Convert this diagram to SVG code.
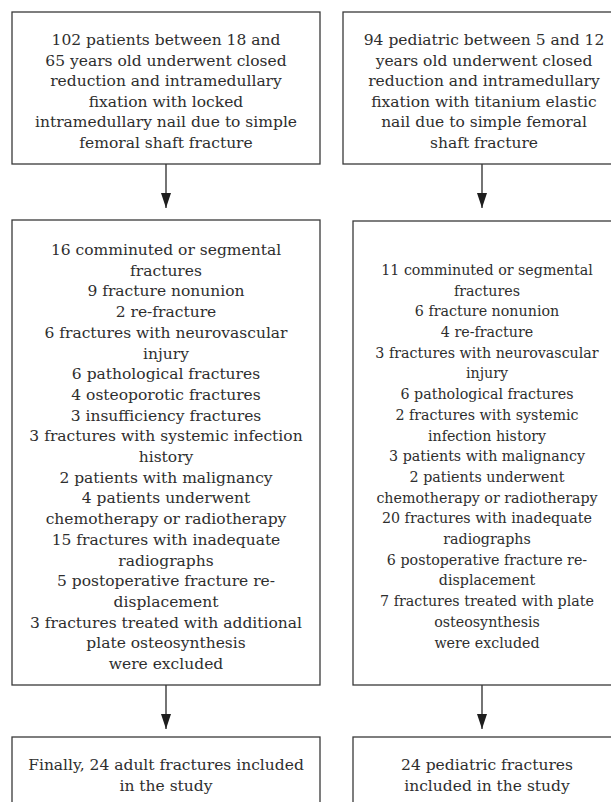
<svg xmlns="http://www.w3.org/2000/svg" width="611" height="802" viewBox="0 0 611 802">
<defs>
<style>
.box{fill:#ffffff;stroke:#3a3a3a;stroke-width:1.3}
.t{font-family:"DejaVu Serif","Liberation Serif",serif;font-size:15.5px;fill:#2e2e2e;text-anchor:middle}
.edge{stroke:#2a2a2a;stroke-width:1.3;fill:none;marker-end:url(#arr)}
</style>
<marker id="arr" viewBox="0 0 15 10" refX="15" refY="5" markerWidth="15" markerHeight="10" markerUnits="userSpaceOnUse" orient="auto">
<path d="M0,0 L15,5 L0,10 z" fill="#1e1e1e"/>
</marker>
</defs>
<rect width="611" height="802" fill="#ffffff"/>
<g id="connectors">
<line class="edge" x1="166" y1="164" x2="166" y2="208"/>
<line class="edge" x1="482" y1="164" x2="482" y2="208"/>
<line class="edge" x1="166" y1="685" x2="166" y2="729"/>
<line class="edge" x1="482" y1="685" x2="482" y2="729"/>
</g>
<g id="adult-start">
<rect class="box" x="12" y="12" width="308" height="152"/>
<text class="t" x="166" y="45">102 patients between 18 and</text>
<text class="t" x="166" y="65.6">65 years old underwent closed</text>
<text class="t" x="166" y="86.2">reduction and intramedullary</text>
<text class="t" x="166" y="106.8">fixation with locked</text>
<text class="t" x="166" y="127.4">intramedullary nail due to simple</text>
<text class="t" x="166" y="148">femoral shaft fracture</text>
</g>
<g id="pediatric-start">
<rect class="box" x="343" y="12" width="282" height="152"/>
<text class="t" x="484" y="45">94 pediatric between 5 and 12</text>
<text class="t" x="484" y="65.6">years old underwent closed</text>
<text class="t" x="484" y="86.2">reduction and intramedullary</text>
<text class="t" x="484" y="106.8">fixation with titanium elastic</text>
<text class="t" x="484" y="127.4">nail due to simple femoral</text>
<text class="t" x="484" y="148">shaft fracture</text>
</g>
<g id="adult-excluded">
<rect class="box" x="12" y="220" width="308" height="465"/>
<text class="t" x="166" y="255">16 comminuted or segmental</text>
<text class="t" x="166" y="275.7">fractures</text>
<text class="t" x="166" y="296.4">9 fracture nonunion</text>
<text class="t" x="166" y="317.1">2 re-fracture</text>
<text class="t" x="166" y="337.8">6 fractures with neurovascular</text>
<text class="t" x="166" y="358.5">injury</text>
<text class="t" x="166" y="379.2">6 pathological fractures</text>
<text class="t" x="166" y="399.9">4 osteoporotic fractures</text>
<text class="t" x="166" y="420.6">3 insufficiency fractures</text>
<text class="t" x="166" y="441.3">3 fractures with systemic infection</text>
<text class="t" x="166" y="462">history</text>
<text class="t" x="166" y="482.7">2 patients with malignancy</text>
<text class="t" x="166" y="503.4">4 patients underwent</text>
<text class="t" x="166" y="524.1">chemotherapy or radiotherapy</text>
<text class="t" x="166" y="544.8">15 fractures with inadequate</text>
<text class="t" x="166" y="565.5">radiographs</text>
<text class="t" x="166" y="586.2">5 postoperative fracture re-</text>
<text class="t" x="166" y="606.9">displacement</text>
<text class="t" x="166" y="627.6">3 fractures treated with additional</text>
<text class="t" x="166" y="648.3">plate osteosynthesis</text>
<text class="t" x="166" y="669">were excluded</text>
</g>
<g id="pediatric-excluded">
<rect class="box" x="353" y="221" width="268" height="464"/>
<g transform="translate(487 0) scale(0.92 1)">
<text class="t" x="0" y="275">11 comminuted or segmental</text>
<text class="t" x="0" y="295.7">fractures</text>
<text class="t" x="0" y="316.4">6 fracture nonunion</text>
<text class="t" x="0" y="337.1">4 re-fracture</text>
<text class="t" x="0" y="357.8">3 fractures with neurovascular</text>
<text class="t" x="0" y="378.5">injury</text>
<text class="t" x="0" y="399.2">6 pathological fractures</text>
<text class="t" x="0" y="419.9">2 fractures with systemic</text>
<text class="t" x="0" y="440.6">infection history</text>
<text class="t" x="0" y="461.3">3 patients with malignancy</text>
<text class="t" x="0" y="482">2 patients underwent</text>
<text class="t" x="0" y="502.7">chemotherapy or radiotherapy</text>
<text class="t" x="0" y="523.4">20 fractures with inadequate</text>
<text class="t" x="0" y="544.1">radiographs</text>
<text class="t" x="0" y="564.8">6 postoperative fracture re-</text>
<text class="t" x="0" y="585.5">displacement</text>
<text class="t" x="0" y="606.2">7 fractures treated with plate</text>
<text class="t" x="0" y="626.9">osteosynthesis</text>
<text class="t" x="0" y="647.6">were excluded</text>
</g>
</g>
<g id="adult-final">
<rect class="box" x="12" y="737" width="308" height="80"/>
<text class="t" x="166" y="770">Finally, 24 adult fractures included</text>
<text class="t" x="166" y="790.7">in the study</text>
</g>
<g id="pediatric-final">
<rect class="box" x="353" y="737" width="268" height="80"/>
<text class="t" x="487" y="770">24 pediatric fractures</text>
<text class="t" x="487" y="790.7">included in the study</text>
</g>
</svg>
